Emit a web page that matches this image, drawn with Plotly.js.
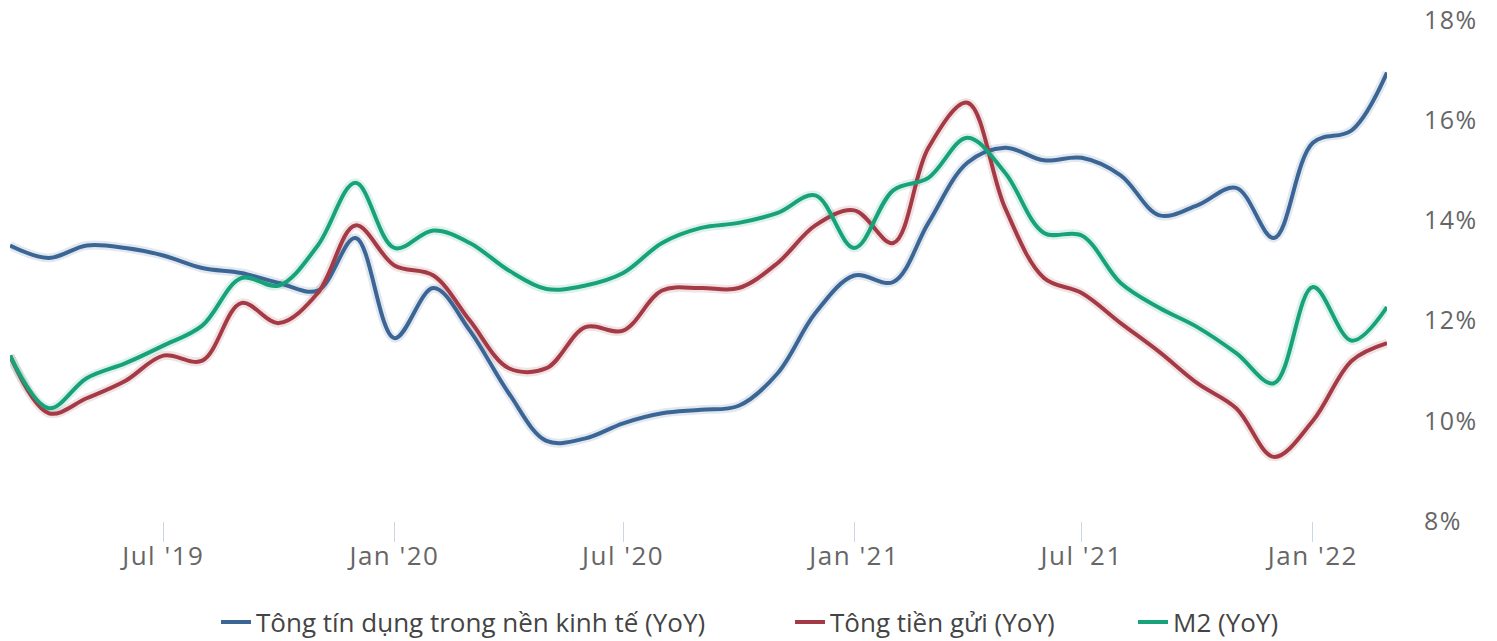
<!DOCTYPE html>
<html>
<head>
<meta charset="utf-8">
<script src="https://cdn.plot.ly/plotly-3.0.1.min.js"></script>
<style>
html,body{margin:0;padding:0;background:#fff;}
#chart{width:1497px;height:641px;}
#chart .xtick text{letter-spacing:1.5px;}
#chart .ytick text{letter-spacing:1.5px;}
</style>
</head>
<body>
<div id="chart"></div>
<script>
const months = [
  '2019-03-01','2019-04-01','2019-05-01','2019-06-01','2019-07-01','2019-08-01','2019-09-01','2019-10-01','2019-11-01','2019-12-01',
  '2020-01-01','2020-02-01','2020-03-01','2020-04-01','2020-05-01','2020-06-01','2020-07-01','2020-08-01','2020-09-01','2020-10-01','2020-11-01','2020-12-01',
  '2021-01-01','2021-02-01','2021-03-01','2021-04-01','2021-05-01','2021-06-01','2021-07-01','2021-08-01','2021-09-01','2021-10-01','2021-11-01','2021-12-01',
  '2022-01-01','2022-02-01','2022-03-01'
];
const credit = [13.5,13.25,13.5,13.45,13.3,13.05,12.95,12.75,12.6,13.65,
  11.65,12.65,11.8,10.55,9.6,9.65,9.95,10.15,10.22,10.3,10.95,12.15,
  12.9,12.77,13.95,15.15,15.45,15.2,15.25,14.9,14.1,14.3,14.65,13.65,
  15.55,15.8,16.95];
const deposits = [11.3,10.15,10.45,10.8,11.3,11.2,12.35,11.95,12.55,13.9,
  13.1,12.9,12.0,11.05,11.05,11.87,11.8,12.6,12.65,12.65,13.15,13.9,
  14.2,13.55,15.45,16.35,14.25,12.85,12.55,11.95,11.37,10.75,10.25,9.28,
  10.0,11.2,11.55];
const m2 = [11.3,10.25,10.85,11.15,11.5,11.9,12.85,12.7,13.5,14.75,
  13.45,13.8,13.55,13.0,12.63,12.7,12.95,13.55,13.85,13.95,14.15,14.5,
  13.45,14.6,14.85,15.65,14.95,13.75,13.7,12.75,12.25,11.87,11.35,10.75,
  12.67,11.6,12.27];
const seriesNames = ['Tông tín dụng trong nền kinh tế (YoY)','Tông tiền gửi (YoY)','M2 (YoY)'];
const seriesColors = ['#3b6594','#a33a45','#17a27a'];
const shadowColors = ['rgba(59,101,148,0.15)','rgba(163,58,69,0.15)','rgba(23,162,122,0.15)'];
const xTickVals = ['2019-07-01','2020-01-01','2020-07-01','2021-01-01','2021-07-01','2022-01-01'];
const xTickText = ["Jul '19","Jan '20","Jul '20","Jan '21","Jul '21","Jan '22"];
const yTickVals = [8,10,12,14,16,18];
const yTickText = ['8%','10%','12%','14%','16%','18%'];

const values = [credit, deposits, m2];
const legendIds = ['legend','legend2','legend3'];
const traces = [];
values.forEach((v,i)=>{
  traces.push({x: months, y: v, type:'scatter', mode:'lines', showlegend:false, hoverinfo:'skip',
    line:{color: shadowColors[i], width: 9, shape:'spline', smoothing:1}});
});
values.forEach((v,i)=>{
  traces.push({x: months, y: v, type:'scatter', mode:'lines', name: seriesNames[i], legend: legendIds[i],
    line:{color: seriesColors[i], width: 4, shape:'spline', smoothing:1}});
});

const fam = '"Open Sans", "Noto Sans", sans-serif';
const legendFont = {family:fam, size:26, color:'#444444'};
function leg(xpx){
  return {orientation:'h', xref:'container', yref:'container', x:xpx/1497, xanchor:'left',
    y:(641-622)/641, yanchor:'middle', font:legendFont, bgcolor:'rgba(0,0,0,0)', borderwidth:0};
}
const layout = {
  width:1497, height:641,
  margin:{l:10, r:110, t:20, b:120, autoexpand:false},
  paper_bgcolor:'#ffffff', plot_bgcolor:'#ffffff',
  font:{family:fam, size:24, color:'#666666'},
  showlegend:true,
  xaxis:{
    type:'date', range:['2019-03-01','2022-03-01'], automargin:false,
    tickvals: xTickVals, ticktext: xTickText,
    ticks:'outside', ticklen:20, tickwidth:1, tickcolor:'#ccd6eb',
    ticklabelstandoff:-8,
    showgrid:false, zeroline:false, showline:false,
    tickfont:{family:fam, size:26, color:'#666666'}
  },
  yaxis:{
    side:'right', range:[8,18], tickvals:yTickVals, ticktext:yTickText, automargin:false,
    showgrid:false, zeroline:false, showline:false, ticks:'',
    ticklabelstandoff: 36,
    tickfont:{family:fam, size:25, color:'#666666'}
  },
  legend: leg(216),
  legend2: leg(790),
  legend3: leg(1133)
};
Plotly.newPlot('chart', traces, layout, {displayModeBar:false, staticPlot:true});
</script>
</body>
</html>
